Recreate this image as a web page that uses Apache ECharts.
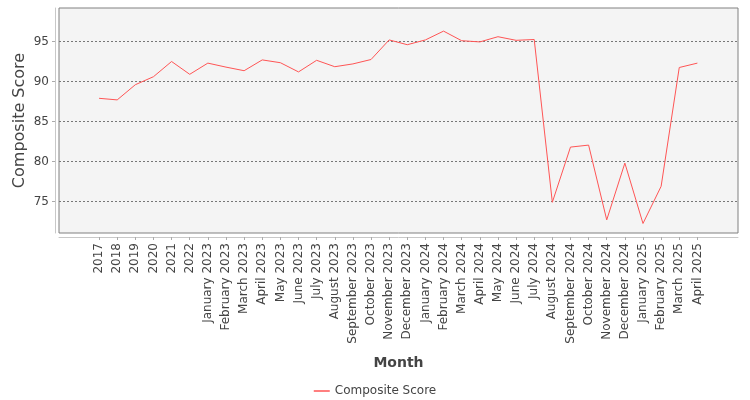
<!DOCTYPE html>
<html>
<head>
<meta charset="utf-8">
<script src="https://cdn.jsdelivr.net/npm/echarts@6/dist/echarts.min.js"></script>
<style>
  html, body { margin: 0; padding: 0; background: #fff; }
  #chart { width: 750px; height: 400px; }
</style>
</head>
<body>
<div id="chart"></div>
<script>
var months = ['2017', '2018', '2019', '2020', '2021', '2022',
  'January 2023', 'February 2023', 'March 2023', 'April 2023', 'May 2023', 'June 2023',
  'July 2023', 'August 2023', 'September 2023', 'October 2023', 'November 2023', 'December 2023',
  'January 2024', 'February 2024', 'March 2024', 'April 2024', 'May 2024', 'June 2024',
  'July 2024', 'August 2024', 'September 2024', 'October 2024', 'November 2024', 'December 2024',
  'January 2025', 'February 2025', 'March 2025', 'April 2025'];

var compositeScore = [87.9, 87.7, 89.6, 90.6, 92.5, 90.9,
  92.3, 91.8, 91.35, 92.7, 92.35, 91.2,
  92.65, 91.85, 92.2, 92.75, 95.2, 94.6,
  95.2, 96.3, 95.1, 94.95, 95.6, 95.15,
  95.25, 74.9, 81.8, 82.05, 72.7, 79.8,
  72.25, 76.9, 91.75, 92.3];

var yTicks = [75, 80, 85, 90, 95];

(function() {
  var chart = echarts.init(document.getElementById('chart'));
  var txt = '#444';
  var font = 'DejaVu Sans';

  var idx = months.map(function(m, i) { return i; });
  var points = compositeScore.map(function(v, i) { return [i, v]; });

  var option = {
    backgroundColor: '#fff',
    animation: false,
    textStyle: { fontFamily: font },
    grid: {
      left: 59, right: 12, top: 8, bottom: 167,
      show: true,
      backgroundColor: '#f4f4f4',
      borderColor: '#808080',
      borderWidth: 1
    },
    legend: {
      data: ['Composite Score'],
      left: 'center',
      top: 380,
      icon: 'path://M0,0 L16,0 L16,1.5 L0,1.5 Z',
      itemWidth: 16,
      itemHeight: 2,
      itemGap: 4,
      textStyle: { color: txt, fontSize: 12, fontFamily: font }
    },
    xAxis: {
      type: 'value',
      min: -2.21,
      max: 35.24,
      offset: 4,
      name: 'Month',
      nameLocation: 'middle',
      nameGap: 119,
      nameMoveOverlap: false,
      nameTextStyle: { color: txt, fontSize: 14, fontWeight: 'bold', fontFamily: font },
      axisLine: { show: true, onZero: false, lineStyle: { color: '#c8c8c8' } },
      axisTick: { show: true, length: 3, customValues: idx, lineStyle: { color: '#aaa' } },
      axisLabel: {
        customValues: idx,
        rotate: 90,
        margin: 6,
        color: txt,
        fontSize: 12,
        fontFamily: font,
        formatter: function(v) { return months[Math.round(v)]; }
      },
      splitLine: { show: false }
    },
    yAxis: {
      type: 'value',
      min: 71.06,
      max: 99.19,
      offset: 4,
      name: 'Composite Score',
      nameLocation: 'middle',
      nameGap: 27,
      nameMoveOverlap: false,
      nameTextStyle: { color: txt, fontSize: 16, fontFamily: font },
      axisLine: { show: true, onZero: false, lineStyle: { color: '#c8c8c8' } },
      axisTick: { show: true, length: 3, customValues: yTicks, lineStyle: { color: '#aaa' } },
      axisLabel: {
        customValues: yTicks,
        margin: 6,
        color: txt,
        fontSize: 12,
        fontFamily: font
      },
      splitLine: {
        show: true,
        lineStyle: { color: '#777', width: 1, type: [2, 2] }
      }
    },
    series: [{
      name: 'Composite Score',
      type: 'line',
      symbol: 'none',
      data: points,
      lineStyle: { color: '#ff5555', width: 1 },
      itemStyle: { color: '#ff5555' }
    }]
  };

  chart.setOption(option);
})();
</script>
</body>
</html>
